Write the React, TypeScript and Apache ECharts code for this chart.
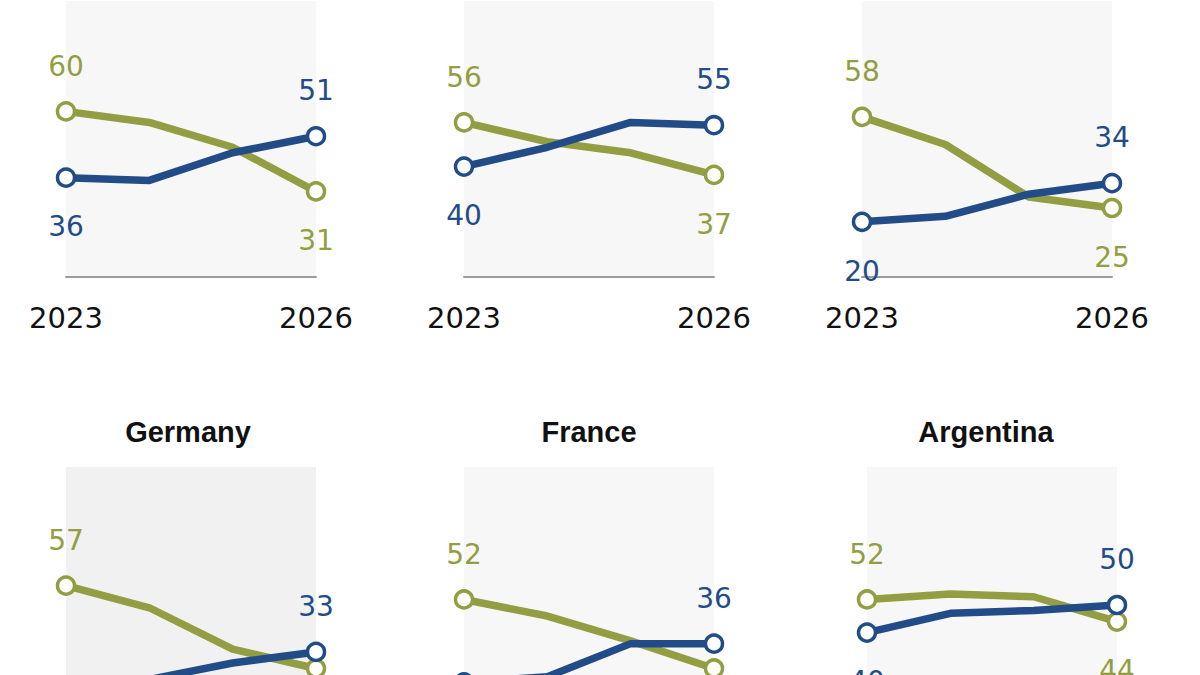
import React, { useEffect, useRef } from 'react';
import * as echarts from 'echarts';

const years = ['2023', '2024', '2025', '2026'];
const titles = ['', '', '', 'Germany', 'France', 'Argentina'];

// olive line and blue line for each of the six panels
const panel1Olive = [60, 56, 47, 31];
const panel1Blue = [36, 35, 45, 51];
const panel2Olive = [56, 49, 45, 37];
const panel2Blue = [40, 47, 56, 55];
const panel3Olive = [58, 48, 29, 25];
const panel3Blue = [20, 22, 30, 34];
const germanyOlive = [57, 49, 34, 27];
const germanyBlue = [20, 23, 29, 33];
const franceOlive = [52, 46, 37, 27];
const franceBlue = [22, 24, 36, 36];
const argentinaOlive = [52, 54, 53, 44];
const argentinaBlue = [40, 47, 48, 50];

const oliveSeries = [panel1Olive, panel2Olive, panel3Olive, germanyOlive, franceOlive, argentinaOlive];
const blueSeries = [panel1Blue, panel2Blue, panel3Blue, germanyBlue, franceBlue, argentinaBlue];

const OLIVE = '#939e42';
const BLUE = '#224c88';
const FONT = 'DejaVu Sans';

// layout of the panels (bottom row runs past the visible area, so the
// chart div is taller than the clipped box around it)
const lefts = [66, 464, 862, 66, 464, 867];
const tops = [1, 1, 1, 467, 467, 467];
const W = 250;
const H = 276;
const panelBg = ['#f7f7f7', '#f7f7f7', '#f7f7f7', '#f1f1f1', '#f7f7f7', '#f7f7f8'];
const titleX = [0, 0, 0, 188, 589, 986];

function buildData(vals: number[], other: number[], top: number) {
  return vals.map((v, i) => {
    const end = i === 0 || i === vals.length - 1;
    if (!end) return { value: v, symbol: 'none', label: { show: false } };
    const above = v >= other[i];
    const py = top + H * (1 - v / 100);
    // labels that would land below the picture are left out
    const visible = above || py + 48 < 685;
    return {
      value: v,
      label: { show: visible, position: above ? 'top' : 'bottom', distance: above ? 21 : 25 },
    };
  });
}

function makeSeries(k: number, vals: number[], other: number[], color: string) {
  return {
    type: 'line',
    xAxisIndex: k,
    yAxisIndex: k,
    data: buildData(vals, other, tops[k]),
    symbol: 'circle',
    symbolSize: 17,
    lineStyle: { color, width: 7.5, cap: 'round', join: 'round' },
    itemStyle: { color: '#fff', borderColor: color, borderWidth: 3.5 },
    label: { color, fontSize: 28, fontFamily: FONT, lineHeight: 28 },
    emphasis: { disabled: true },
  };
}

function App() {
  const chartRef = useRef(null);

  useEffect(() => {
    const chart = echarts.init(chartRef.current, null, { renderer: 'svg' });

    const grid: any[] = [];
    const xAxis: any[] = [];
    const yAxis: any[] = [];
    const series: any[] = [];
    const graphic: any[] = [];

    for (let k = 0; k < 6; k++) {
      grid.push({
        left: lefts[k],
        top: tops[k],
        width: W,
        height: H,
        show: true,
        backgroundColor: panelBg[k],
        borderWidth: 0,
      });
      xAxis.push({
        gridIndex: k,
        type: 'category',
        data: years,
        boundaryGap: false,
        axisLine: { show: k < 3, lineStyle: { color: '#9b9b9b', width: 2 } },
        axisTick: { show: false },
        axisLabel: {
          show: k < 3,
          interval: 0,
          formatter: (v: string, i: number) => (i === 0 || i === years.length - 1 ? v : ''),
          fontSize: 29,
          fontFamily: FONT,
          color: '#111',
          margin: 26,
        },
        splitLine: { show: false },
      });
      yAxis.push({ gridIndex: k, type: 'value', min: 0, max: 100, show: false });
      series.push(makeSeries(k, oliveSeries[k], blueSeries[k], OLIVE));
      series.push(makeSeries(k, blueSeries[k], oliveSeries[k], BLUE));
      if (titles[k]) {
        graphic.push({
          type: 'text',
          x: titleX[k],
          y: 432,
          style: {
            text: titles[k],
            align: 'center',
            verticalAlign: 'middle',
            fontSize: 29,
            fontWeight: 'bold',
            fontFamily: 'Liberation Sans',
            fill: '#111',
          },
        });
      }
    }

    chart.setOption({
      animation: false,
      backgroundColor: '#fff',
      grid,
      xAxis,
      yAxis,
      series,
      graphic,
    });

    return () => {
      chart.dispose();
    };
  }, []);

  return (
    <div style={{ position: 'absolute', left: 0, top: 0, width: '1200px', height: '675px', overflow: 'hidden' }}>
      <div ref={chartRef} style={{ width: '1200px', height: '760px' }}></div>
    </div>
  );
}

export default App;
